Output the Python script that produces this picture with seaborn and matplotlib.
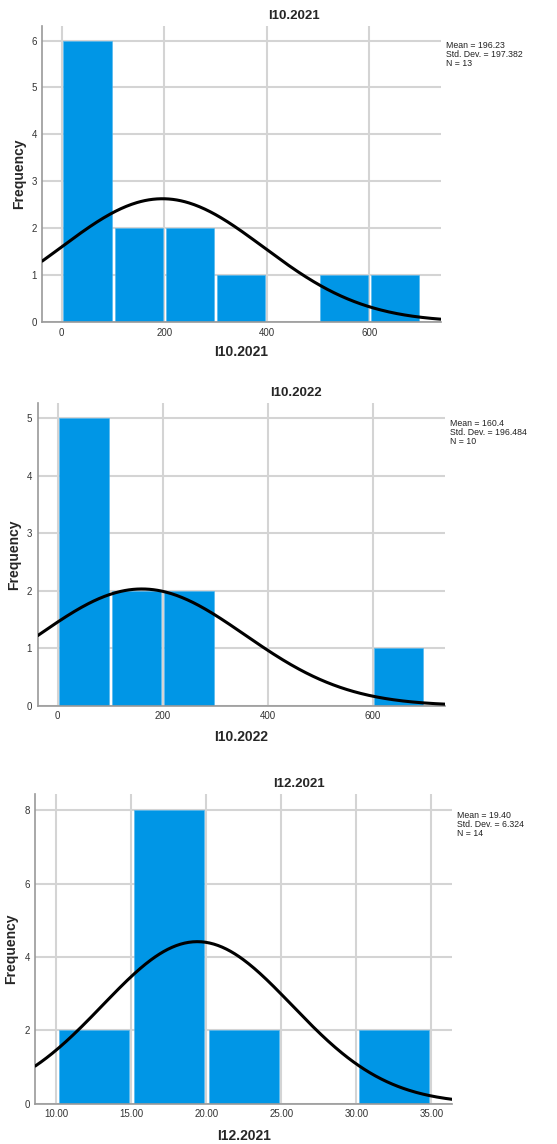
import numpy as np
import pandas as pd
import matplotlib
matplotlib.use('Agg')
import matplotlib.pyplot as plt
import seaborn as sns

# histogram bins and counts
i10_2021_edges = [0, 100, 200, 300, 400, 500, 600, 700]
i10_2021_counts = [6, 2, 2, 1, 0, 1, 1]
i10_2021_stats = (196.23, 197.382, 13)

i10_2022_edges = [0, 100, 200, 300, 400, 500, 600, 700]
i10_2022_counts = [5, 2, 2, 0, 0, 0, 1]
i10_2022_stats = (160.4, 196.484, 10)

i12_2021_edges = [10, 15, 20, 25, 30, 35]
i12_2021_counts = [2, 8, 2, 0, 2]
i12_2021_stats = (19.40, 6.324, 14)

sns.set_style('white')
plt.rcParams['font.family'] = ['Arial', 'Liberation Sans', 'DejaVu Sans']

W, H = 557, 1144
fig = plt.figure(figsize=(W / 100, H / 100), dpi=100)

bar_col = '#0096E6'
grid_col = '#D4D4D4'


def px_axes(l, t, r, b):
    return fig.add_axes([l / W, 1 - b / H, (r - l) / W, (b - t) / H])


panels = [
    dict(name='I10.2021', edges=i10_2021_edges, counts=i10_2021_counts, stats=i10_2021_stats,
         box=(42.3, 26, 440.7, 322), xlim=(-38, 739), ylim=(0, 6.31),
         xticks=[0, 200, 400, 600], yticks=range(0, 7), fmt='{:.0f}',
         title_xy=(294, 16), xlab_xy=(241, 352), ylab_x=19,
         stat_xy=(445.7, 41), stat_txt='Mean = 196.23\nStd. Dev. = 197.382\nN = 13'),
    dict(name='I10.2022', edges=i10_2022_edges, counts=i10_2022_counts, stats=i10_2022_stats,
         box=(37.7, 403.3, 445, 705.7), xlim=(-38, 738), ylim=(0, 5.26),
         xticks=[0, 200, 400, 600], yticks=range(0, 6), fmt='{:.0f}',
         title_xy=(295.7, 393.3), xlab_xy=(241, 736.7), ylab_x=14,
         stat_xy=(450, 419), stat_txt='Mean = 160.4\nStd. Dev. = 196.484\nN = 10'),
    dict(name='I12.2021', edges=i12_2021_edges, counts=i12_2021_counts, stats=i12_2021_stats,
         box=(35.3, 794, 452.3, 1103.7), xlim=(8.6, 36.4), ylim=(0, 8.44),
         xticks=[10, 15, 20, 25, 30, 35], yticks=[0, 2, 4, 6, 8], fmt='{:.2f}',
         title_xy=(299, 784.3), xlab_xy=(243.7, 1135.7), ylab_x=11,
         stat_xy=(456.7, 811), stat_txt='Mean = 19.40\nStd. Dev. = 6.324\nN = 14'),
]

for p in panels:
    ax = px_axes(*p['box'])
    edges = [float(e) for e in p['edges']]
    centers = [(a + b) / 2 for a, b in zip(edges[:-1], edges[1:])]
    df = pd.DataFrame({'x': centers, 'w': p['counts']})
    sns.histplot(data=df, x='x', weights='w', bins=edges, stat='count', ax=ax,
                 color=bar_col, alpha=1, shrink=0.94, edgecolor='#4DB5EE',
                 linewidth=0.4, zorder=2)

    # normal curve scaled to counts
    mean, sd, n = p['stats']
    binw = edges[1] - edges[0]
    xs = np.linspace(p['xlim'][0], p['xlim'][1], 300)
    ys = n * binw * np.exp(-0.5 * ((xs - mean) / sd) ** 2) / (sd * np.sqrt(2 * np.pi))
    sns.lineplot(x=xs, y=ys, ax=ax, color='black', linewidth=2.2, zorder=3)

    ax.set_xlim(*p['xlim'])
    ax.set_ylim(*p['ylim'])
    ax.set_xticks(p['xticks'])
    ax.set_xticklabels([p['fmt'].format(v) for v in p['xticks']])
    ax.set_yticks(list(p['yticks']))
    ax.tick_params(axis='both', length=0, labelsize=7, colors='#333333', pad=4)
    ax.grid(True, color=grid_col, linewidth=1.5, zorder=0)
    ax.set_axisbelow(True)
    for s in ['top', 'right']:
        ax.spines[s].set_visible(False)
    for s in ['left', 'bottom']:
        ax.spines[s].set_color('#999999')
        ax.spines[s].set_linewidth(1.2)
    ax.set_xlabel('')
    ax.set_ylabel('')

    tx, ty = p['title_xy']
    fig.text(tx / W, 1 - ty / H, p['name'], ha='center', va='center',
             fontsize=9.5, fontweight='bold')
    lx, ly = p['xlab_xy']
    fig.text(lx / W, 1 - ly / H, p['name'], ha='center', va='center',
             fontsize=10, fontweight='bold')
    l, t, r, b = p['box']
    fig.text(p['ylab_x'] / W, 1 - ((t + b) / 2) / H, 'Frequency', rotation=90,
             ha='center', va='center', fontsize=10, fontweight='bold')
    sx, sy = p['stat_xy']
    fig.text(sx / W, 1 - sy / H, p['stat_txt'], ha='left', va='top',
             fontsize=6.3, linespacing=1.0, color='#222222')

fig.savefig('out.png', dpi=100, facecolor='white')
